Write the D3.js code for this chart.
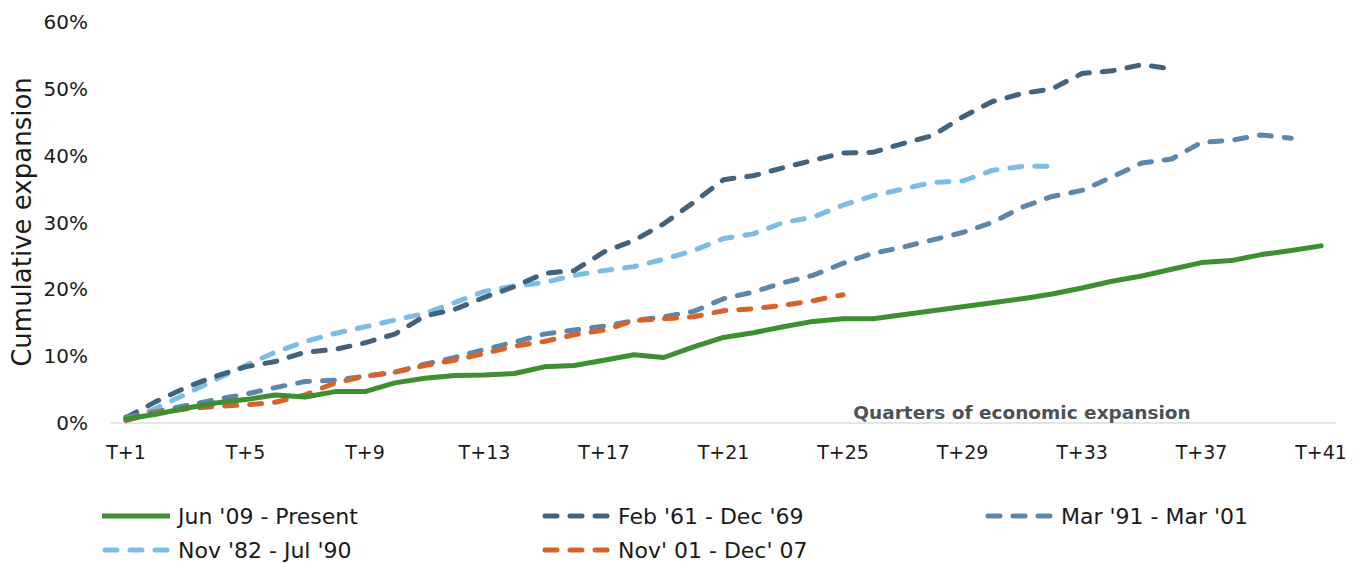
<!DOCTYPE html>
<html>
<head>
<meta charset="utf-8">
<script src="https://cdn.jsdelivr.net/npm/d3@7"></script>
<style>
  body { margin: 0; background: #fff; }
  svg { font-family: "DejaVu Sans", sans-serif; }
</style>
</head>
<body>
<svg id="chart" width="1354" height="564"></svg>
<script>
// quarters T+1 .. T+41
const quarters = d3.range(1, 42).map(n => "T+" + n);
const tickLabels = quarters.filter((q, i) => i % 4 === 0);
const yTicks = [0, 10, 20, 30, 40, 50, 60];

// cumulative expansion, %
const jun09 = [0.6, 1.3, 2.2, 3.0, 3.5, 4.2, 3.9, 4.7, 4.7, 6.0, 6.7, 7.1, 7.2, 7.4, 8.4, 8.6, 9.4, 10.2, 9.8, 11.4,
  12.8, 13.5, 14.4, 15.2, 15.6, 15.6, 16.2, 16.8, 17.4, 18.0, 18.6, 19.3, 20.2, 21.2, 22.0, 23.0, 24.0, 24.3, 25.2, 25.8, 26.5];
const feb61 = [0.8, 3.2, 5.3, 7.0, 8.4, 9.2, 10.6, 11.0, 12.0, 13.3, 16.0, 17.0, 18.8, 20.4, 22.4, 22.8, 25.6, 27.3, 29.8, 33.0,
  36.4, 37.0, 38.2, 39.3, 40.4, 40.5, 41.8, 43.0, 45.8, 48.1, 49.3, 50.0, 52.3, 52.7, 53.6, 53.0];
const mar91 = [0.9, 1.7, 2.6, 3.5, 4.3, 5.3, 6.2, 6.4, 7.0, 7.6, 8.8, 9.8, 11.0, 12.1, 13.3, 13.9, 14.5, 15.3, 15.9, 16.7,
  18.6, 19.6, 21.0, 22.1, 23.9, 25.4, 26.3, 27.4, 28.5, 30.0, 32.3, 33.9, 34.8, 36.8, 38.9, 39.5, 42.0, 42.3, 43.1, 42.6];
const nov82 = [0.3, 2.2, 4.3, 6.5, 8.6, 10.6, 12.2, 13.4, 14.4, 15.4, 16.4, 18.0, 19.7, 20.5, 21.0, 22.1, 22.8, 23.4, 24.5, 25.8,
  27.6, 28.3, 30.0, 30.8, 32.6, 34.0, 35.0, 36.0, 36.2, 37.8, 38.4, 38.4];
const nov01 = [0.4, 1.5, 2.1, 2.5, 2.7, 3.1, 4.2, 6.0, 7.0, 7.6, 8.6, 9.4, 10.4, 11.5, 12.2, 13.2, 13.9, 15.3, 15.6, 15.9,
  16.8, 17.1, 17.6, 18.3, 19.2];

const series = [
  { name: "Jun '09 - Present", values: jun09, color: "#3d8f32", dashed: false },
  { name: "Feb '61 - Dec '69", values: feb61, color: "#43627b", dashed: true },
  { name: "Mar '91 - Mar '01", values: mar91, color: "#5d86ab", dashed: true },
  { name: "Nov '82 - Jul '90", values: nov82, color: "#7dbde5", dashed: true },
  { name: "Nov' 01 - Dec' 07", values: nov01, color: "#d9622b", dashed: true }
];
// draw order: back to front
const drawOrder = [3, 1, 2, 4, 0];

const svg = d3.select("#chart");

const x = d3.scalePoint()
  .domain(quarters)
  .range([111, 1336])
  .padding(0.5);

const y = d3.scaleLinear()
  .domain([0, 60])
  .range([423, 22]);

// y axis labels
svg.append("g")
  .selectAll("text")
  .data(yTicks)
  .enter().append("text")
  .attr("x", 88)
  .attr("y", d => y(d))
  .attr("dy", "0.35em")
  .attr("text-anchor", "end")
  .attr("font-size", 20)
  .attr("fill", "#1a1a1a")
  .text(d => d + "%");

svg.append("text")
  .attr("transform", "translate(31," + 222 + ") rotate(-90)")
  .attr("text-anchor", "middle")
  .attr("font-size", 26)
  .attr("fill", "#1a1a1a")
  .text("Cumulative expansion");

// x axis line
svg.append("line")
  .attr("x1", 111).attr("x2", 1336)
  .attr("y1", y(0)).attr("y2", y(0))
  .attr("stroke", "#d9dedb")
  .attr("stroke-width", 1.5);

svg.append("g")
  .selectAll("text")
  .data(tickLabels)
  .enter().append("text")
  .attr("x", d => x(d))
  .attr("y", 459)
  .attr("text-anchor", "middle")
  .attr("font-size", 19)
  .attr("fill", "#1a1a1a")
  .text(d => d);

svg.append("text")
  .attr("x", 1022)
  .attr("y", 419)
  .attr("text-anchor", "middle")
  .attr("font-size", 18.5)
  .attr("font-weight", "bold")
  .attr("fill", "#4d5254")
  .text("Quarters of economic expansion");

// lines
const line = d3.line()
  .x((d, i) => x(quarters[i]))
  .y(d => y(d));

svg.append("g")
  .selectAll("path")
  .data(drawOrder.map(i => series[i]))
  .enter().append("path")
  .attr("d", d => line(d.values))
  .attr("fill", "none")
  .attr("stroke", d => d.color)
  .attr("stroke-width", 5)
  .attr("stroke-linecap", "round")
  .attr("stroke-linejoin", "round")
  .attr("stroke-dasharray", d => d.dashed ? "12,13" : null);

// legend
const legendPos = [
  [102, 516], [542, 516], [985, 516],
  [102, 550], [542, 550]
];

const legend = svg.append("g")
  .selectAll("g")
  .data(series)
  .enter().append("g")
  .attr("transform", (d, i) => "translate(" + legendPos[i][0] + "," + legendPos[i][1] + ")");

legend.append("line")
  .attr("x1", d => d.dashed ? 3 : 0)
  .attr("x2", 68)
  .attr("y1", 0).attr("y2", 0)
  .attr("stroke", d => d.color)
  .attr("stroke-width", 5)
  .attr("stroke-linecap", d => d.dashed ? "round" : "butt")
  .attr("stroke-dasharray", d => d.dashed ? "12,13" : null);

legend.append("text")
  .attr("x", 76)
  .attr("y", 0)
  .attr("dy", "0.35em")
  .attr("font-size", 22)
  .attr("fill", "#1a1a1a")
  .text(d => d.name);
</script>
</body>
</html>
